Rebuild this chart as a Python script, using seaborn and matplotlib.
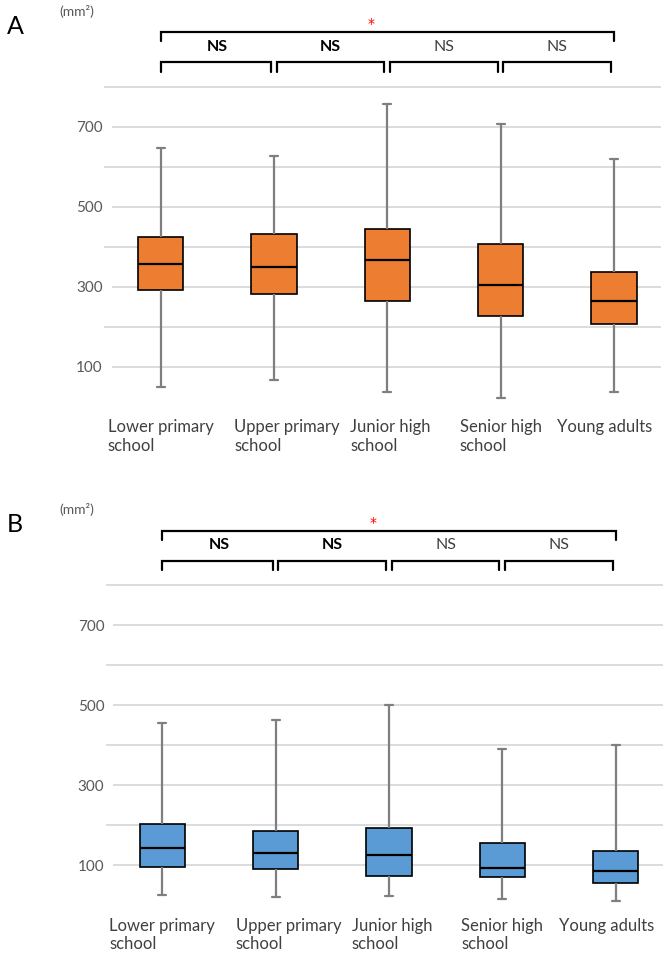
import pandas as pd
import matplotlib
matplotlib.use("Agg")
import matplotlib.pyplot as plt
import matplotlib.transforms as mtransforms
import seaborn as sns

# categories along the x axis
groups = ["Lower primary\nschool", "Upper primary\nschool", "Junior high\nschool",
          "Senior high\nschool", "Young adults"]

# panel A (orange): five-number summaries, in mm2
a_min = [49, 67, 37, 21, 38]
a_q1 = [293, 281, 264, 228, 206]
a_med = [356, 350, 367, 304, 265]
a_q3 = [425, 432, 444, 406, 336]
a_max = [647, 628, 756, 707, 619]

# panel B (blue)
b_min = [26, 21, 24, 16, 11]
b_q1 = [96, 91, 73, 70, 56]
b_med = [144, 131, 126, 94, 87]
b_q3 = [203, 187, 194, 156, 135]
b_max = [456, 463, 501, 391, 402]

y_ticks = [100, 200, 300, 400, 500, 600, 700, 800]
y_labels = ["100", "", "300", "", "500", "", "700", ""]
pair_labels = ["NS", "NS", "NS", "NS"]
pair_bold = [True, True, False, False]
# small sideways nudges of the category labels (pixels), as in the original
label_shift = [0, 13, 3, 0, -9]


def build_frame(mins, q1s, meds, q3s, maxs):
    # five points per group give exactly these quartiles with whis=(0, 100)
    rows = []
    for g, vals in zip(groups, zip(mins, q1s, meds, q3s, maxs)):
        for v in vals:
            rows.append((g, v))
    return pd.DataFrame(rows, columns=["group", "area"])


def draw_panel(ax, df, color, letter, fig, top_px):
    sns.boxplot(data=df, x="group", y="area", order=groups, ax=ax,
                color=color, saturation=1, width=0.4, whis=(0, 100),
                linecolor="black", linewidth=1.2, showfliers=False,
                whiskerprops={"color": "#7f7f7f", "linewidth": 1.6},
                capprops={"color": "#7f7f7f", "linewidth": 1.6},
                medianprops={"color": "black", "linewidth": 1.6})
    # shorten caps
    for line in ax.lines:
        xs = line.get_xdata()
        ys = line.get_ydata()
        if len(xs) == 2 and ys[0] == ys[1] and line.get_color() == "#7f7f7f":
            c = (xs[0] + xs[1]) / 2
            line.set_xdata([c - 0.035, c + 0.035])

    ax.set_xlim(-0.5, 4.416)
    ax.set_ylim(0, 1000)
    ax.set_yticks(y_ticks)
    ax.set_yticklabels(y_labels)
    ax.set_axisbelow(True)
    ax.yaxis.grid(True, color="#d9d9d9", linewidth=1.3)
    ax.xaxis.grid(False)
    for s in ax.spines.values():
        s.set_visible(False)
    ax.tick_params(axis="y", length=0, pad=1, labelsize=11, labelcolor="#595959")
    ax.tick_params(axis="x", length=0, pad=9, labelsize=12, labelcolor="#404040")
    for lab in ax.get_yticklabels():
        lab.set_bbox(dict(boxstyle="square,pad=0.6", facecolor="white", edgecolor="none"))
    for lab, dx in zip(ax.get_xticklabels(), label_shift):
        lab.set_multialignment("left")
        lab.set_transform(lab.get_transform() +
                          mtransforms.ScaledTranslation(dx / 100, 0, fig.dpi_scale_trans))
    ax.set_xlabel("")
    ax.set_ylabel("")

    # significance brackets
    lw = 1.6
    ax.plot([0, 0, 4, 4], [914, 936, 936, 914], color="black", lw=lw,
            solid_joinstyle="miter", clip_on=False)
    ax.text(1.86, 947, "*", color="red", ha="center", va="baseline", fontsize=10,
            family="DejaVu Sans")
    for i in range(4):
        x0 = i + (0 if i == 0 else 0.025)
        x1 = i + 1 - 0.025
        ax.plot([x0, x0, x1, x1], [838, 862, 862, 838], color="black", lw=lw,
                solid_joinstyle="miter", clip_on=False)
        ax.text(i + 0.5, 900, pair_labels[i], ha="center", va="center", fontsize=11.5,
                fontweight="bold" if pair_bold[i] else "normal",
                color="black" if pair_bold[i] else "#404040")

    fig.text(77 / 666, 1 - top_px / 956, "(mm\u00b2)", ha="center", va="center",
             fontsize=10, color="#595959")
    fig.text(15 / 666, 1 - (top_px + 15) / 956, letter, ha="center", va="center",
             fontsize=18, color="black")


sns.set_theme(style="white")
plt.rcParams["font.family"] = ["Lato", "DejaVu Sans"]

fig = plt.figure(figsize=(6.66, 9.56), dpi=100)
ax_a = fig.add_axes([104 / 666, (956 - 406.7) / 956, 557 / 666, 400 / 956])
ax_b = fig.add_axes([105.7 / 666, (956 - 905.3) / 956, 557 / 666, 400 / 956])

draw_panel(ax_a, build_frame(a_min, a_q1, a_med, a_q3, a_max), "#ED7D31", "A", fig, 11)
draw_panel(ax_b, build_frame(b_min, b_q1, b_med, b_q3, b_max), "#5B9BD5", "B", fig, 509)

fig.savefig("out.png", dpi=100)
